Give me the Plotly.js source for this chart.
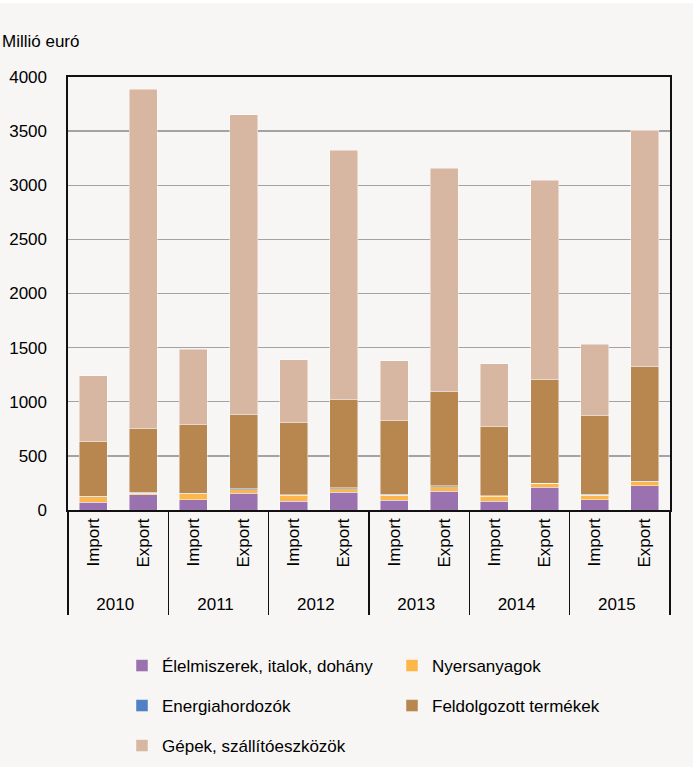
<!DOCTYPE html>
<html>
<head>
<meta charset="utf-8">
<script src="https://cdn.plot.ly/plotly-3.0.1.min.js"></script>
<style>
html,body{margin:0;padding:0;background:#ffffff;}
#chart{width:693px;height:764px;margin-top:3px;}
</style>
</head>
<body>
<div id="chart"></div>
<script>
const years = ["2010","2010","2011","2011","2012","2012","2013","2013","2014","2014","2015","2015"];
const flows = ["Import","Export","Import","Export","Import","Export","Import","Export","Import","Export","Import","Export"];

const seriesNames = ["Élelmiszerek, italok, dohány","Nyersanyagok","Energiahordozók","Feldolgozott termékek","Gépek, szállítóeszközök"];
const elelmiszer   = [72, 140, 97, 155, 81, 162, 88, 174, 79, 208, 97, 226];
const nyersanyag   = [50, 17, 55, 32, 56, 36, 49, 43, 48, 37, 40, 34];
const energia      = [4, 8, 4, 8, 4, 7, 10, 5, 5, 4, 7, 4];
const feldolgozott = [508, 590, 632, 683, 663, 814, 678, 871, 641, 958, 727, 1060];
const gepek        = [604, 3134, 699, 2774, 584, 2304, 554, 2066, 578, 1841, 662, 2186];

const yTicks = [0,500,1000,1500,2000,2500,3000,3500,4000];

const colors = ["#9b72b0","#fdb64a","#4f81c4","#b8864f","#d7b7a1"];
const values = [elelmiszer, nyersanyag, energia, feldolgozott, gepek];
const legendIds = ["legend","legend2","legend3","legend4","legend5"];
// legend slot positions (container pixels): [left x, middle y]
const legendPos = [[122,666],[392,666],[122,706],[392,706],[122,746]];

const W = 693, H = 764;
// non-breaking padding below the rotated inner labels to push the year row down
const flowLabels = flows.map(f => "\u00a0\u00a0" + f);
const traces = values.map((v,i)=>({
  type:"bar",
  name: seriesNames[i],
  x:[years, flowLabels],
  y:v,
  marker:{color:colors[i], line:{color:"rgba(255,255,255,0.55)", width:0.8}},
  legend: legendIds[i],
  hoverinfo:"skip"
}));

const legFont = {family:"Liberation Sans, Arial, sans-serif", size:17, color:"#000"};
function leg(p){
  return {
    orientation:"h", xref:"container", yref:"container",
    x:p[0]/W, y:1-(p[1]-3)/H, xanchor:"left", yanchor:"middle",
    bgcolor:"rgba(0,0,0,0)", font:legFont, itemclick:false, itemdoubleclick:false
  };
}

const layout = {
  width:W, height:H,
  barmode:"stack",
  bargap:0.44,
  paper_bgcolor:"#f7f6f4",
  plot_bgcolor:"#f7f6f4",
  font:{family:"Liberation Sans, Arial, sans-serif", size:17, color:"#000"},
  margin:{l:68, r:23, t:74, b:257},
  showlegend:true,
  xaxis:{
    type:"multicategory",
    showline:true, linecolor:"#111", linewidth:1.6, mirror:true,
    tickangle:-90,
    showdividers:true, dividercolor:"#111", dividerwidth:1.6,
    ticks:"", showgrid:false,
    tickfont:{size:17, color:"#000"}
  },
  yaxis:{
    range:[0,4000],
    tickvals:yTicks,
    ticktext:yTicks.map(String),
    showline:true, linecolor:"#111", linewidth:1.6, mirror:true,
    showgrid:true, gridcolor:"#a3a3a3", gridwidth:1.4,
    zeroline:false,
    ticks:"", ticklabelstandoff:16,
    tickfont:{size:17, color:"#000"}
  },
  annotations:[{
    text:"Millió euró", xref:"paper", yref:"paper",
    x:-68/602, xanchor:"left",
    y:1+(77-42)/433, yanchor:"middle",
    showarrow:false, font:{size:17, color:"#000"}
  }]
};
legendIds.forEach((id,i)=>{ layout[id] = leg(legendPos[i]); });

Plotly.newPlot("chart", traces, layout, {displayModeBar:false, staticPlot:true});
</script>
</body>
</html>
